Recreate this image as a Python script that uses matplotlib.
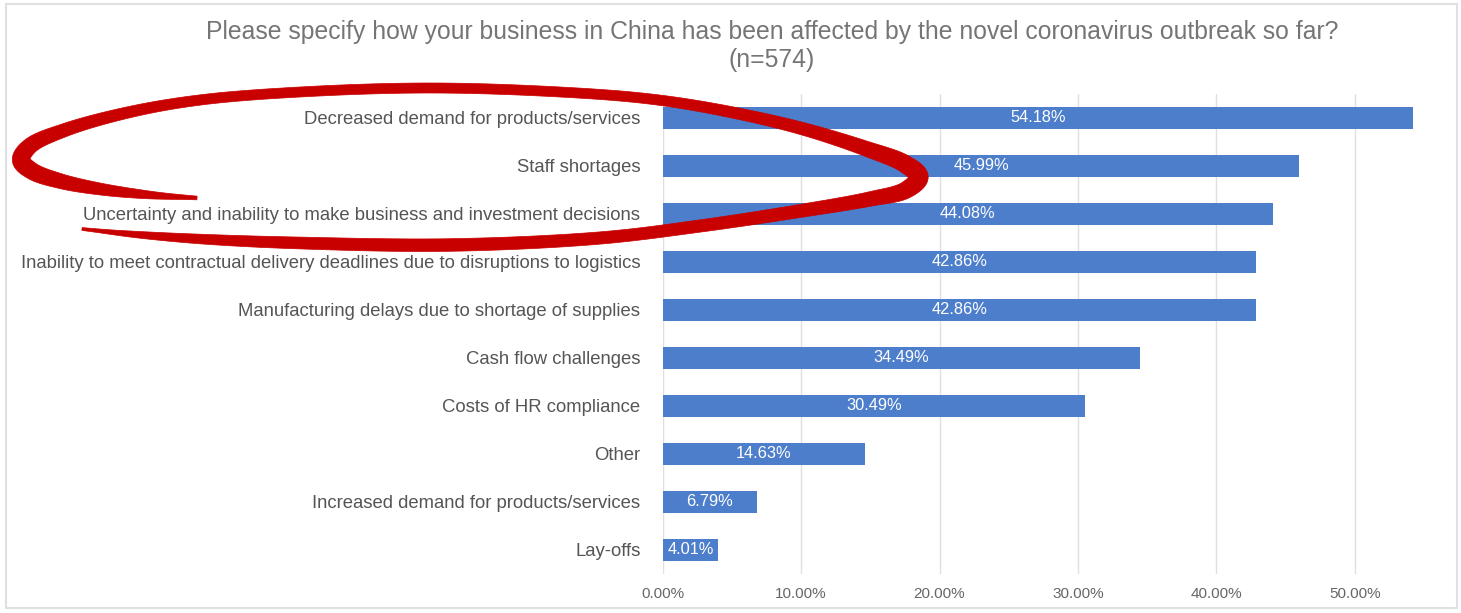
import numpy as np
import matplotlib
matplotlib.use("Agg")
import matplotlib.pyplot as plt
from matplotlib.patches import Rectangle, Polygon

plt.rcParams['font.family'] = ['Liberation Sans', 'DejaVu Sans']

categories = [
    "Decreased demand for products/services",
    "Staff shortages",
    "Uncertainty and inability to make business and investment decisions",
    "Inability to meet contractual delivery deadlines due to disruptions to logistics",
    "Manufacturing delays due to shortage of supplies",
    "Cash flow challenges",
    "Costs of HR compliance",
    "Other",
    "Increased demand for products/services",
    "Lay-offs",
]
values = [54.18, 45.99, 44.08, 42.86, 42.86, 34.49, 30.49, 14.63, 6.79, 4.01]
xticks = [0, 10, 20, 30, 40, 50]
xticklabels = ["0.00%", "10.00%", "20.00%", "30.00%", "40.00%", "50.00%"]
title_lines = ["Please specify how your business in China has been affected by the novel coronavirus outbreak so far?",
               "(n=574)"]

W, H = 1461, 613
fig = plt.figure(figsize=(W / 100, H / 100), dpi=100)
fig.patch.set_facecolor("white")

# frame of the screenshot
frame_ax = fig.add_axes([0, 0, 1, 1], zorder=0)
frame_ax.set_xlim(0, W)
frame_ax.set_ylim(H, 0)
frame_ax.axis("off")
frame_ax.add_patch(Rectangle((6, 4), 1451, 604, fill=False, edgecolor="#e0e0e0", linewidth=1.5))

# main axes
left_px, right_px, top_px, bottom_px = 662.7, 1424, 94, 574
ax = fig.add_axes([left_px / W, 1 - bottom_px / H, (right_px - left_px) / W, (bottom_px - top_px) / H], zorder=1)
ax.set_facecolor("none")
y = np.arange(len(categories))
ax.barh(y, values, height=0.47, color="#4d7ecb", zorder=2)
for yi, v in zip(y, values):
    ax.text(v / 2, yi, f"{v:.2f}%", ha="center", va="center", color="white", fontsize=11.8, zorder=3)

ax.set_xlim(0, 55)
ax.set_ylim(len(categories) - 0.5, -0.5)
ax.set_xticks(xticks)
ax.set_xticklabels(xticklabels, color="#666666", fontsize=11)
ax.set_yticks(y)
ax.set_yticklabels(categories, color="#555555", fontsize=13.3)
ax.tick_params(axis="both", length=0)
ax.tick_params(axis="x", pad=9)
ax.tick_params(axis="y", pad=16)
ax.grid(axis="x", color="#e0e0e0", linewidth=1, zorder=0)
ax.set_axisbelow(True)
for s in ax.spines.values():
    s.set_visible(False)

fig.text(772 / W, 1 - 32 / H, title_lines[0], ha="center", va="center", color="#757575", fontsize=17.8)
fig.text(772 / W, 1 - 60 / H, title_lines[1], ha="center", va="center", color="#757575", fontsize=17.8)

# hand-drawn red ellipse annotation (overlay, pixel coordinates)
ov = fig.add_axes([0, 0, 1, 1], zorder=5)
ov.set_xlim(0, W)
ov.set_ylim(H, 0)
ov.axis("off")
ov.patch.set_alpha(0)

pts = np.array([
    (197, 198), (150, 195), (100, 189), (60, 181), (32, 171), (21, 160), (30, 146),
    (65, 130), (130, 112), (200, 100), (300, 92), (430, 88), (560, 92), (650, 99),
    (720, 110), (800, 128), (867, 149), (905, 164), (919, 177), (906, 190), (870, 199),
    (800, 211), (700, 226), (600, 238), (450, 245), (300, 243), (200, 239), (130, 234),
    (82, 229),
], dtype=float)
widths = np.array([2.5, 8, 12, 15, 17, 18, 16, 13, 11, 10, 10, 10, 10, 10,
                   11, 12, 15, 18, 19, 17, 14, 13, 12, 12, 13, 12, 10, 6, 2], dtype=float)

def centripetal(p, w, n=30):
    p = np.vstack([2 * p[0] - p[1], p, 2 * p[-1] - p[-2]])
    w = np.concatenate([[w[0]], w, [w[-1]]])
    out, ow = [], []
    for i in range(1, len(p) - 2):
        P0, P1, P2, P3 = p[i - 1], p[i], p[i + 1], p[i + 2]
        t0 = 0.0
        t1 = t0 + np.linalg.norm(P1 - P0) ** 0.5
        t2 = t1 + np.linalg.norm(P2 - P1) ** 0.5
        t3 = t2 + np.linalg.norm(P3 - P2) ** 0.5
        for t in np.linspace(t1, t2, n, endpoint=False):
            A1 = (t1 - t) / (t1 - t0) * P0 + (t - t0) / (t1 - t0) * P1
            A2 = (t2 - t) / (t2 - t1) * P1 + (t - t1) / (t2 - t1) * P2
            A3 = (t3 - t) / (t3 - t2) * P2 + (t - t2) / (t3 - t2) * P3
            B1 = (t2 - t) / (t2 - t0) * A1 + (t - t0) / (t2 - t0) * A2
            B2 = (t3 - t) / (t3 - t1) * A2 + (t - t1) / (t3 - t1) * A3
            C = (t2 - t) / (t2 - t1) * B1 + (t - t1) / (t2 - t1) * B2
            out.append(C)
            f = (t - t1) / (t2 - t1)
            ow.append(w[i] + (w[i + 1] - w[i]) * f)
    out.append(p[-2])
    ow.append(w[-2])
    return np.array(out), np.array(ow)

c, cw = centripetal(pts, widths)
k = 25
cw_s = np.convolve(np.pad(cw, k, mode="edge"), np.ones(2 * k + 1) / (2 * k + 1), mode="same")[k:-k]
d = np.gradient(c, axis=0)
d /= np.linalg.norm(d, axis=1)[:, None]
nrm = np.stack([-d[:, 1], d[:, 0]], axis=1)
side1 = c + nrm * (cw_s[:, None] / 2)
side2 = c - nrm * (cw_s[:, None] / 2)
poly = np.vstack([side1, side2[::-1]])
ov.add_patch(Polygon(poly, closed=True, facecolor="#c90000", edgecolor="#c90000", linewidth=0.5))

fig.savefig("out.png", dpi=100)
